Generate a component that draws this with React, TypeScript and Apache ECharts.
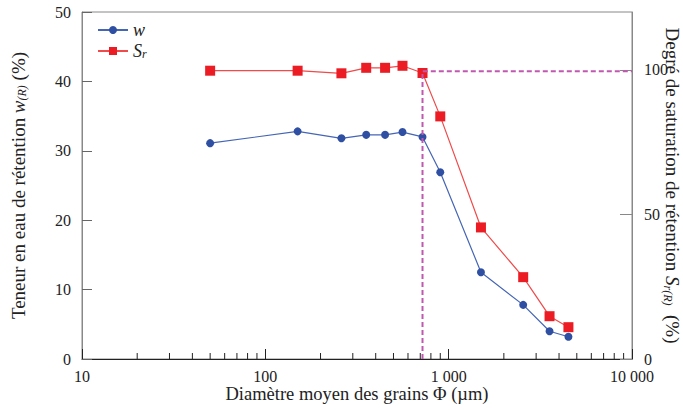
import React, { useEffect, useRef } from "react";
import * as echarts from "echarts";

const diameters = [50, 150, 260, 355, 450, 560, 720, 900, 1500, 2550, 3550, 4500];
const wValues = [31.1, 32.8, 31.8, 32.3, 32.3, 32.7, 32.0, 26.9, 12.5, 7.8, 4.0, 3.2];
const srDiameters = [50, 150, 260, 355, 450, 560, 720, 900, 1500, 2550, 3550, 4500];
const srValues = [99.7, 99.7, 98.8, 100.7, 100.7, 101.4, 98.9, 83.9, 45.5, 28.3, 14.8, 11.0];
const limitLine: [number, number][] = [[720, 0], [720, 99.5], [10000, 99.5]];
const minorTickValues = [20, 30, 40, 50, 60, 70, 80, 90, 200, 300, 400, 500, 600, 700, 800, 900, 2000, 3000, 4000, 5000, 6000, 7000, 8000, 9000];
const rightTicks = [0, 50, 100];

const FONT = "'Liberation Serif', 'Times New Roman', serif";

const nameRich = {
  i: { fontFamily: FONT, fontStyle: "italic", fontSize: 19, color: "#222", lineHeight: 20 },
  sub: { fontFamily: FONT, fontStyle: "italic", fontSize: 12, color: "#222", verticalAlign: "bottom", lineHeight: 20 },
};

export default function App() {
  const ref = useRef<HTMLDivElement>(null);
  useEffect(() => {
    if (!ref.current) return;
    const chart = echarts.init(ref.current, undefined, { renderer: "svg" });
    chart.setOption({
      animation: false,
      textStyle: { fontFamily: FONT, color: "#222" },
      grid: {
        left: 82, right: 51, top: 12, bottom: 51,
        containLabel: false, outerBoundsMode: "none",
        show: true, borderColor: "#888", borderWidth: 1, backgroundColor: "transparent",
      },
      legend: {
        orient: "vertical",
        left: 92,
        top: 16,
        itemWidth: 30,
        itemHeight: 10,
        itemGap: 3,
        data: ["w", "Sr"],
        formatter: (n: string) => (n === "Sr" ? "{i|S}{sub|r}" : "{i|w}"),
        textStyle: {
          fontFamily: FONT,
          fontSize: 17,
          color: "#222",
          rich: {
            i: { fontFamily: FONT, fontStyle: "italic", fontSize: 18, color: "#222" },
            sub: { fontFamily: FONT, fontStyle: "italic", fontSize: 12, color: "#222", verticalAlign: "bottom" },
          },
        },
      },
      xAxis: {
        type: "log",
        logBase: 10,
        min: 10,
        max: 10000,
        name: "Diamètre moyen des grains Φ (µm)",
        nameLocation: "middle",
        nameGap: 25,
        nameMoveOverlap: false,
        nameTextStyle: { fontFamily: FONT, fontSize: 18.5, color: "#222" },
        axisLine: { show: true, lineStyle: { color: "#222", width: 1 } },
        axisTick: { show: true, inside: true, length: 10, lineStyle: { color: "#222" } },
        axisLabel: {
          fontFamily: FONT,
          fontSize: 16,
          color: "#222",
          margin: 9,
          formatter: (v: number) => String(Math.round(v)).replace(/\B(?=(\d{3})+(?!\d))/g, " "),
        },
        splitLine: { show: false },
      },
      yAxis: [
        {
          type: "value",
          min: 0,
          max: 50,
          interval: 10,
          position: "left",
          name: "Teneur en eau de rétention {i|w}{sub|(R)} (%)",
          nameLocation: "middle",
          nameGap: 54,
          nameMoveOverlap: false,
          nameTextStyle: { fontFamily: FONT, fontSize: 19, color: "#222", lineHeight: 20, rich: nameRich },
          axisLine: { show: true, lineStyle: { color: "#888" } },
          axisTick: { show: true, inside: true, length: 10, lineStyle: { color: "#666" } },
          axisLabel: { fontFamily: FONT, fontSize: 16, color: "#222", margin: 11 },
          splitLine: { show: false },
        },
        {
          type: "value",
          min: 0,
          max: 120,
          interval: 50,
          position: "right",
          name: "Degré de saturation de rétention {i|S}{sub|r(R)}  (%)",
          nameLocation: "middle",
          nameRotate: -90,
          nameGap: 30,
          nameMoveOverlap: false,
          nameTextStyle: { fontFamily: FONT, fontSize: 19, color: "#222", lineHeight: 20, rich: nameRich },
          axisLine: { show: true, lineStyle: { color: "#888" } },
          axisTick: { show: true, inside: true, length: 12, customValues: rightTicks, lineStyle: { color: "#888" } },
          axisLabel: { fontFamily: FONT, fontSize: 16, color: "#222", margin: 12, customValues: rightTicks },
          splitLine: { show: false },
        },
      ],
      series: [
        {
          type: "custom",
          name: "minor",
          xAxisIndex: 0,
          yAxisIndex: 0,
          silent: true,
          data: minorTickValues.map((v) => [v, 0]),
          renderItem: (params: any, api: any) => {
            const p = api.coord([api.value(0), 0]);
            return {
              type: "line",
              shape: { x1: p[0], y1: p[1], x2: p[0], y2: p[1] - 6 },
              style: { stroke: "#222", lineWidth: 1 },
            };
          },
          z: 1,
        },
        {
          name: "w",
          type: "line",
          yAxisIndex: 0,
          data: diameters.map((d, i) => [d, wValues[i]]),
          symbol: "circle",
          symbolSize: 8,
          itemStyle: { color: "#2f4fa3" },
          lineStyle: { color: "#4565b5", width: 1.2 },
          z: 3,
        },
        {
          name: "Sr",
          type: "line",
          yAxisIndex: 1,
          data: srDiameters.map((d, i) => [d, srValues[i]]),
          symbol: "rect",
          symbolSize: 10,
          itemStyle: { color: "#ec1c24" },
          lineStyle: { color: "#f04a4a", width: 1.2 },
          z: 3,
        },
        {
          name: "limit",
          type: "line",
          yAxisIndex: 1,
          data: limitLine,
          symbol: "none",
          silent: true,
          lineStyle: { color: "#c058b0", width: 2, type: [5, 3] },
          z: 4,
        },
      ],
    });
    return () => chart.dispose();
  }, []);
  return <div ref={ref} style={{ position: "absolute", left: 0, top: 0, width: 683, height: 410 }} />;
}
